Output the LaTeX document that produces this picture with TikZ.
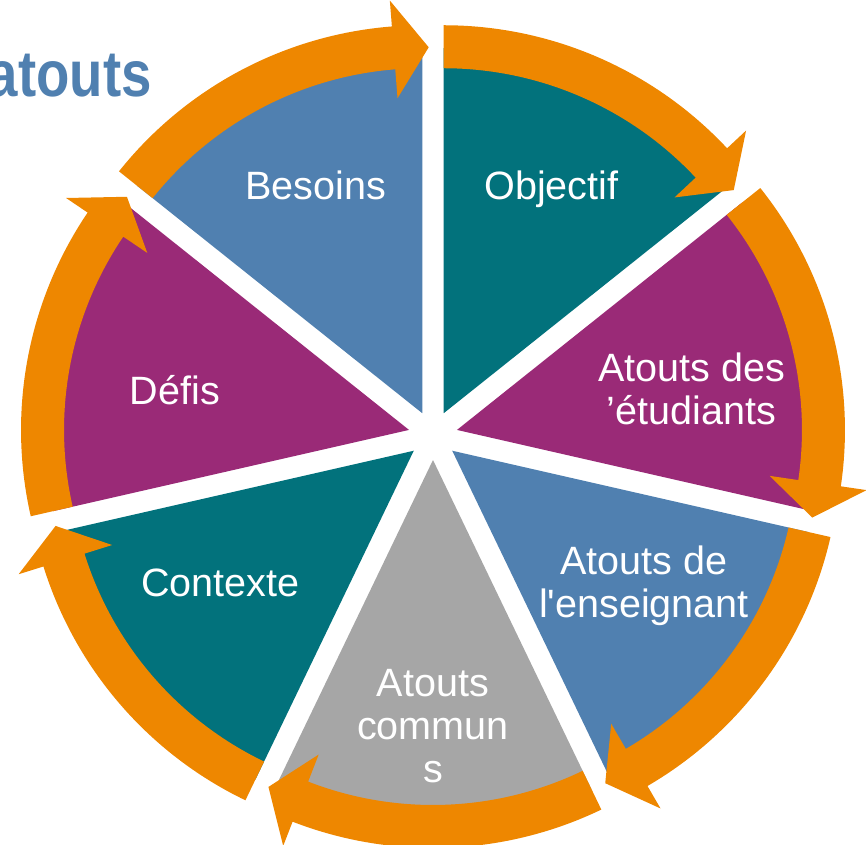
\documentclass[tikz,border=0pt]{standalone}
\usepackage{fontspec}
\setmainfont{Liberation Sans}
\newfontfamily\titlefont{Liberation Sans}[FakeStretch=0.84]
\usepackage{xcolor}
\definecolor{tealseg}{RGB}{2,114,124}
\definecolor{plumseg}{RGB}{154,42,119}
\definecolor{blueseg}{RGB}{80,128,176}
\definecolor{greyseg}{RGB}{166,166,166}
\definecolor{cyclearrow}{RGB}{238,135,0}
\tikzset{%
    seg label/.style={%
        text=white, align=center, inner sep=0pt,
        font=\fontsize{22.5}{24.4}\selectfont
    }
}

\begin{document}
\begin{tikzpicture}[scale=0.02,
  title node/.style={text=blueseg, inner sep=0pt,
    font=\titlefont\bfseries\fontsize{37}{40}\selectfont}]
  \useasboundingbox (-433,-409.6) rectangle (433,435.4);

  % wedges, clockwise from the top
  \foreach \a/\col in {90/tealseg, 38.571/plumseg, -12.857/blueseg,
      -64.286/greyseg, -115.714/tealseg, -167.143/plumseg, -218.571/blueseg}{
    \pgfmathsetmacro{\endang}{\a-51.429}
    \pgfmathsetmacro{\midang}{\a-25.714}
    \begin{scope}[shift={(\midang:24.6)}]
      \fill[\col] (0,0) -- (\a:365) arc[start angle=\a, end angle=\endang, radius=365] -- cycle;
    \end{scope}
  }
  % arrows
  \foreach \a in {90, 38.571, -12.857, -64.286, -115.714, -167.143, -218.571}{
    \pgfmathsetmacro{\endang}{\a-51.429}
    \pgfmathsetmacro{\midang}{\a-25.714}
    \pgfmathsetmacro{\baseang}{\endang+4.5}
    \pgfmathsetmacro{\tipang}{\endang-1}
    \begin{scope}[shift={(\midang:24.6)}]
      \fill[cyclearrow] (\a:388) arc[start angle=\a, end angle=\baseang, radius=388]
        -- (\baseang:414) -- (\tipang:366) -- (\baseang:316) -- (\baseang:345)
        arc[start angle=\baseang, end angle=\a, radius=345] -- cycle;
    \end{scope}
  }

  \node[seg label, anchor=base] (objectif) at (118.5,235.9) {Objectif};
  \node[seg label] (etudiants) at (258.5,46.4) {Atouts des\\’étudiants};
  \node[seg label] (enseignant) at (211,-150.1) {Atouts de\\l\textquotesingle enseignant};
  \node[seg label] (communs) at (0,-290.4) {Atouts\\commun\\s};
  \node[seg label, anchor=base] (contexte) at (-212.7,-161.3) {Contexte};
  \node[seg label, anchor=base] (defis) at (-258,31.1) {Défis};
  \node[seg label, anchor=base] (besoins) at (-117.5,235.9) {Besoins};

  \node[title node, anchor=base east] (titre) at (-281,338.7) {atouts};
\end{tikzpicture}
\end{document}
